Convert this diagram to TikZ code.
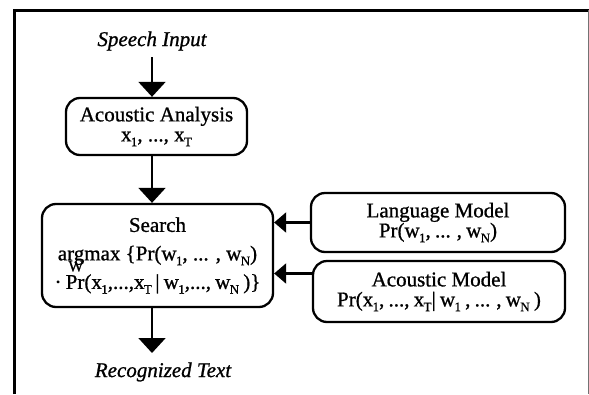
\documentclass[tikz,border=0pt]{standalone}
\usepackage{fontspec}
\setmainfont{Liberation Serif}[FakeBold=0.9]
\usetikzlibrary{arrows.meta}
\newcommand\sbs[1]{\kern-0.03em\raisebox{-0.5ex}{\fontsize{13}{13}\selectfont #1}}
\newcommand\argW{\makebox[0pt][l]{\hspace{0.5em}\raisebox{-0.52em}{\fontsize{16}{16}\selectfont W}}argmax}
\newcommand\tightsp{\spaceskip=0.2em plus 0.05em\relax}
\begin{document}
\begin{tikzpicture}[x=1pt,y=-1pt,
  box/.style={draw, line width=2.3pt, rounded corners=14pt, align=center, inner sep=0pt},
  arr/.style={line width=2pt, -{Triangle[length=15pt,width=27pt]}},
  sarr/.style={line width=2.2pt, -{Triangle[length=12pt,width=20pt]}},
  lbl/.style={font=\fontsize{21}{24}\selectfont\itshape}]
\useasboundingbox (0,0) rectangle (589,394);
% frame
\draw[line width=3pt] (14,394) -- (14,10) -- (589,10);
\draw[line width=0.8pt, black!55] (588,10) -- (588,394);
% boxes
\node[box, minimum width=181pt, minimum height=57pt, font=\fontsize{21}{20}\selectfont] (AA) at (156.5,126.5)
  {Acoustic Analysis\\x\sbs{1}, ..., x\sbs{T}};
\node[box, minimum width=231pt, minimum height=103pt, font=\fontsize{21}{28.5}\selectfont] (Search) at (157.5,255.5)
  {Search\\\argW\ \{Pr(w\sbs{1}, ... , w\sbs{N})\\{\tightsp· Pr(x\sbs{1},...,x\sbs{T}\,| w\sbs{1},..., w\sbs{N} )\}}};
\node[box, minimum width=254pt, minimum height=59pt, font=\fontsize{21}{20}\selectfont] (LM) at (438,222.5)
  {Language Model\\{\tightsp Pr(w\sbs{1}, ... , w\sbs{N})}};
\node[box, minimum width=252pt, minimum height=61pt, font=\fontsize{21}{20}\selectfont] (AM) at (439,291.5)
  {Acoustic Model\\{\tightsp Pr(x\sbs{1}, ..., x\sbs{T}| w\sbs{1} , ... , w\sbs{N} )}};
% labels
\node[lbl] (SI) at (152,41) {Speech Input};
\node[lbl] (RT) at (163,372) {Recognized Text};
% connectors
\coordinate (inS) at (152,57);
\coordinate (outE) at (152,353);
\coordinate (am) at ([yshift=18pt]AM.west);
\draw[arr] (inS) -- (inS |- AA.north);
\draw[arr] (AA.south -| inS) -- (Search.north -| inS);
\draw[arr] (Search.south -| inS) -- (outE);
\draw[sarr] (LM.west) -- (LM.west -| Search.east);
\draw[sarr] (am) -- (am -| Search.east);
\end{tikzpicture}
\end{document}
